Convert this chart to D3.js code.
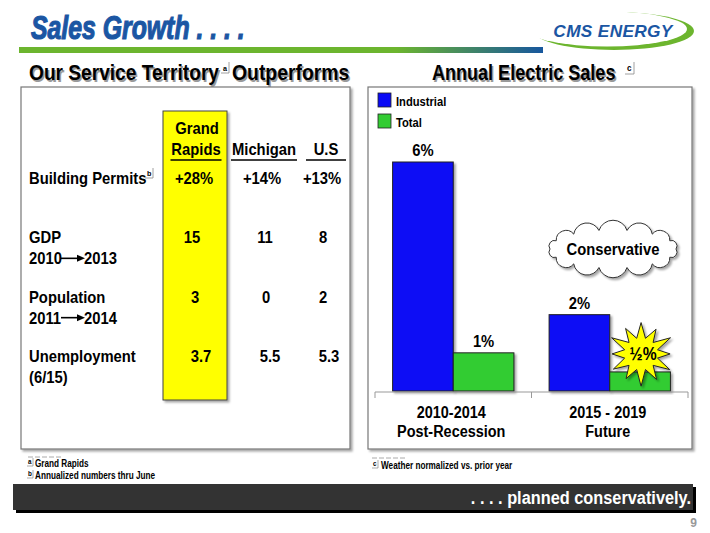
<!DOCTYPE html>
<html><head><meta charset="utf-8">
<script src="https://cdn.jsdelivr.net/npm/d3@7"></script>
<style>
html,body{margin:0;padding:0;background:#fff;}
svg{display:block;}
text{font-family:"Liberation Sans",Arial,sans-serif;font-weight:bold;}
</style></head>
<body>
<svg id="c" width="710" height="533"></svg>
<script>
// ---------- DATA ----------
const periods = ["2010-2014", "2015 - 2019"];
const periodSubLabels = ["Post-Recession", "Future"];
const seriesNames = ["Industrial", "Total"];
const industrialGrowth = [6, 2];
const totalGrowth = [1, 0.5];
const valueLabels = [["6%", "1%"], ["2%", "½%"]];
const yTicks = [0, 6];

const tableColumnsTop = ["Grand", "", ""];
const tableColumns = ["Rapids", "Michigan", "U.S"];
const tableRows = ["Building Permits", "GDP", "Population", "Unemployment"];
const rowSubFrom = ["", "2010", "2011", "(6/15)"];
const rowSubTo = ["", "2013", "2014", ""];
const rowNotes = ["b", "", "", ""];
const grandRapids = ["+28%", "15", "3", "3.7"];
const michigan = ["+14%", "11", "0", "5.5"];
const unitedStates = ["+13%", "8", "2", "5.3"];

const footLeft = [["a", "Grand Rapids"], ["b", "Annualized numbers thru June"]];
const footRight = [["c", "Weather normalized vs. prior year"]];

// ---------- SETUP ----------
const svg = d3.select("#c");
const defs = svg.append("defs");
const grad = defs.append("linearGradient").attr("id","hl").attr("x1","0").attr("x2","1");
grad.append("stop").attr("offset","0").attr("stop-color","#6cb52e");
grad.append("stop").attr("offset","0.72").attr("stop-color","#6cb52e");
grad.append("stop").attr("offset","1").attr("stop-color","#17579e");
const sh = defs.append("filter").attr("id","sh").attr("x","-10%").attr("y","-10%").attr("width","130%").attr("height","130%");
sh.append("feDropShadow").attr("dx",2).attr("dy",2).attr("stdDeviation",1.2).attr("flood-color","#000").attr("flood-opacity",0.35);

// condensed text helper
function T(parent, x, y, txt, size, o={}){
  const sx = o.sx || 0.86;
  const t = parent.append("text")
    .attr("transform", `translate(${x},${y}) scale(${sx},1)`)
    .attr("font-size", size)
    .attr("text-anchor", o.anchor || "start")
    .attr("fill", o.fill || "#000")
    .text(txt);
  if (o.italic) t.attr("font-style","italic");
  if (o.weight) t.attr("font-weight", o.weight);
  return t;
}

// ---------- HEADER ----------
T(svg, 31, 39, "Sales Growth . . . .", 34, {sx:0.73, italic:true, fill:"#1b56a3"})
  .attr("stroke","#1b56a3").attr("stroke-width",1.2);
svg.append("rect").attr("x",19).attr("y",47).attr("width",524).attr("height",6).attr("fill","url(#hl)");

// logo
svg.append("ellipse").attr("cx",614).attr("cy",31).attr("rx",80).attr("ry",19).attr("fill","#6cb52e");
svg.append("ellipse").attr("cx",607).attr("cy",29).attr("rx",80).attr("ry",17.5).attr("fill","#fff");
T(svg, 613, 37, "CMS ENERGY", 16, {sx:1.08, anchor:"middle", italic:true, fill:"#1b56a3"}).attr("letter-spacing",0.3);

// section titles
function shadowT(x,y,size,txt,sx){
  T(svg, x+1.5, y+1.5, txt, size, {sx, fill:"#9a9a9a"});
  T(svg, x, y, txt, size, {sx});
}
shadowT(29,80,22,"Our Service Territory",0.87);
shadowT(232,80,22,"Outperforms",0.88);
T(svg, 223, 71, "a", 8, {sx:0.9});
svg.append("path").attr("d","M221,73 H229 V62").attr("fill","none").attr("stroke","#888").attr("stroke-width",0.8);
shadowT(432,80,22,"Annual Electric Sales",0.82);
T(svg, 627, 71, "c", 9, {sx:0.9});
svg.append("path").attr("d","M625,74 H634 V62").attr("fill","none").attr("stroke","#888").attr("stroke-width",0.8);

// panels
svg.append("rect").attr("x",21).attr("y",87).attr("width",329).attr("height",362).attr("fill","#fff")
  .attr("stroke","#777").attr("stroke-width",1.2).attr("filter","url(#sh)");
svg.append("rect").attr("x",368).attr("y",87).attr("width",324).attr("height",362).attr("fill","#fff")
  .attr("stroke","#777").attr("stroke-width",1.2).attr("filter","url(#sh)");

// ---------- TABLE ----------
const colX = d3.scaleOrdinal().domain(tableColumns).range([196, 264, 326]);
const rowY = d3.scalePoint().domain(tableRows).range([184, 362]);
svg.append("rect").attr("x",163).attr("y",111).attr("width",64).attr("height",289)
  .attr("fill","#ffff00").attr("stroke","#444").attr("stroke-width",1).attr("filter","url(#sh)");
const ulW = [51, 66, 40];
tableColumns.forEach((c,i)=>{
  if (tableColumnsTop[i]) T(svg, colX(c)+1, 134, tableColumnsTop[i], 17, {anchor:"middle", sx:0.87});
  T(svg, colX(c), 155, c, 17, {anchor:"middle", sx:0.87});
  svg.append("line").attr("x1",colX(c)-ulW[i]/2).attr("x2",colX(c)+ulW[i]/2).attr("y1",160).attr("y2",160)
    .attr("stroke","#000").attr("stroke-width",1.5);
});
const colVals = [grandRapids, michigan, unitedStates];
const colShift = [[-2,-4,-1,5],[-2,1,2,6],[-4,-3,-3,3]];
tableRows.forEach((r,i)=>{
  const yy = rowY(r);
  T(svg, 29, yy, r, 17, {sx:0.87});
  if (rowNotes[i]) {
    T(svg, 147, yy-8, rowNotes[i], 8, {sx:0.9});
    svg.append("path").attr("d",`M145,${yy-6} H153 V${yy-16}`).attr("fill","none").attr("stroke","#888").attr("stroke-width",0.8);
  }
  if (rowSubFrom[i]) {
    T(svg, 29, yy+21, rowSubFrom[i], 17, {sx:0.87});
    if (rowSubTo[i]) {
      const ay = yy+15;
      svg.append("line").attr("x1",61).attr("x2",81).attr("y1",ay).attr("y2",ay).attr("stroke","#000").attr("stroke-width",1.6);
      svg.append("path").attr("d",`M77,${ay-3.5} L85,${ay} L77,${ay+3.5} Z`).attr("fill","#000");
      T(svg, 84, yy+21, rowSubTo[i], 17, {sx:0.87});
    }
  }
  tableColumns.forEach((c,j)=>{
    T(svg, colX(c)+colShift[j][i], yy, colVals[j][i], 17, {anchor:"middle", sx:0.87});
  });
});

// ---------- BAR CHART ----------
const x0 = d3.scaleBand().domain(periods).range([375, 688]).padding(0);
const x1 = d3.scaleBand().domain(seriesNames).range([0, x0.bandwidth()]).paddingInner(0).paddingOuter(0.29);
const y = d3.scaleLinear().domain([yTicks[0], yTicks[1]]).range([391, 162]);
const color = d3.scaleOrdinal().domain(seriesNames).range(["#0a0af5", "#33cc33"]);
const seriesVals = {Industrial: industrialGrowth, Total: totalGrowth};

const groups = svg.append("g").selectAll("g").data(periods).join("g")
  .attr("transform", d => `translate(${x0(d)},0)`);
groups.selectAll("rect").data((p,pi)=>seriesNames.map((s)=>({s, v: seriesVals[s][pi]})))
  .join("rect")
  .attr("x", d=>x1(d.s)).attr("width", x1.bandwidth())
  .attr("y", d=>y(d.v)).attr("height", d=>y(0)-y(d.v))
  .attr("fill", d=>color(d.s)).attr("stroke","#222").attr("stroke-width",1).attr("filter","url(#sh)");

// axis
const ax = svg.append("g").attr("transform","translate(0,392)");
ax.append("line").attr("x1",x0.range()[0]).attr("x2",x0.range()[1]).attr("stroke","#999").attr("stroke-width",1);
const edges = periods.map(p=>x0(p)).concat([x0.range()[1]]);
ax.selectAll("line.t").data(edges).join("line").attr("class","t")
  .attr("x1",d=>d).attr("x2",d=>d).attr("y1",0).attr("y2",6).attr("stroke","#999");
periods.forEach((p,i)=>{
  const cx = x0(p)+x0.bandwidth()/2;
  T(svg, cx-2, 418, p, 17, {anchor:"middle", sx:0.85});
  T(svg, cx-2, 437, periodSubLabels[i], 17, {anchor:"middle", sx:0.85});
});

// value labels (except the starburst one)
periods.forEach((p,pi)=>{
  seriesNames.forEach((s,si)=>{
    const v = seriesVals[s][pi];
    if (pi===1 && si===1) return;
    T(svg, x0(p)+x1(s)+x1.bandwidth()/2, y(v)-6, valueLabels[pi][si], 17, {anchor:"middle", sx:0.87});
  });
});

// starburst for 1/2%
{
  const bx = x0(periods[1]) + x1(seriesNames[1]) + x1.bandwidth()/2 + 1;
  const by = y(totalGrowth[1]) - 18;
  const n = 12, pts = [];
  const outer = [33,30,34,29,33,31,34,30,32,29,34,31];
  for (let i=0;i<n*2;i++){
    const a = -Math.PI/2 + i*Math.PI/n;
    const r = i%2===0 ? outer[i/2] : 17;
    pts.push([bx + r*Math.cos(a), by + r*Math.sin(a)*0.95]);
  }
  svg.append("path").attr("d", d3.line().curve(d3.curveLinearClosed)(pts))
    .attr("fill","#ffff00").attr("stroke","#222").attr("stroke-width",1).attr("filter","url(#sh)");
  T(svg, bx+2, by+6, valueLabels[1][1], 18, {anchor:"middle", sx:0.87});
}

// cloud
{
  const cx = 613, cy = 249, rx = 63, ry = 19, n = 14;
  const pts = [];
  for (let i=0;i<n;i++){
    const a = Math.PI + i*2*Math.PI/n;
    pts.push([cx + rx*Math.cos(a), cy + ry*Math.sin(a)]);
  }
  let d = `M${pts[0][0]},${pts[0][1]}`;
  for (let i=1;i<=n;i++){
    const p = pts[i%n], q = pts[i-1];
    const len = Math.hypot(p[0]-q[0], p[1]-q[1]);
    d += ` A${len/2*1.05},${len/2*1.05} 0 0 1 ${p[0]},${p[1]}`;
  }
  svg.append("path").attr("d",d+"Z").attr("fill","#fff").attr("stroke","#333").attr("stroke-width",1).attr("filter","url(#sh)");
  T(svg, cx, cy+6, "Conservative", 17, {anchor:"middle", sx:0.87});
}

// legend
seriesNames.forEach((s,i)=>{
  svg.append("rect").attr("x",378).attr("y",93+i*21).attr("width",13).attr("height",14)
    .attr("fill",color(s)).attr("stroke","#222").attr("stroke-width",0.8);
  T(svg, 396, 106+i*21, s, 13, {sx:0.86});
});

// ---------- FOOTNOTES ----------
function dashes(x,y){ svg.append("line").attr("x1",x).attr("x2",x+34).attr("y1",y).attr("y2",y).attr("stroke","#aaa").attr("stroke-dasharray","5,2"); }
function note(x,y,letter){
  T(svg, x, y-3, letter, 7, {sx:0.9});
  svg.append("path").attr("d",`M${x-1},${y-1} H${x+5} V${y-9}`).attr("fill","none").attr("stroke","#888").attr("stroke-width",0.7);
}
dashes(28,457);
footLeft.forEach((f,i)=>{
  note(28, 467+i*12, f[0]);
  T(svg, 35, 467+i*12, f[1], 10, {sx:0.82});
});
dashes(372,458);
footRight.forEach((f,i)=>{
  note(373, 469, f[0]);
  T(svg, 381, 469, f[1], 10, {sx:0.82});
});

// bottom bar
svg.append("rect").attr("x",16).attr("y",487).attr("width",680).attr("height",26).attr("fill","#000");
svg.append("rect").attr("x",13).attr("y",484).attr("width",680).attr("height",26).attr("fill","#333");
T(svg, 691, 504, ". . . . planned conservatively.", 19, {anchor:"end", sx:0.86, fill:"#fff"});
svg.append("text").attr("x",697).attr("y",527).attr("text-anchor","end").attr("font-size",12)
  .attr("font-weight","normal").attr("fill","#999").text("9");
</script>
</body></html>
